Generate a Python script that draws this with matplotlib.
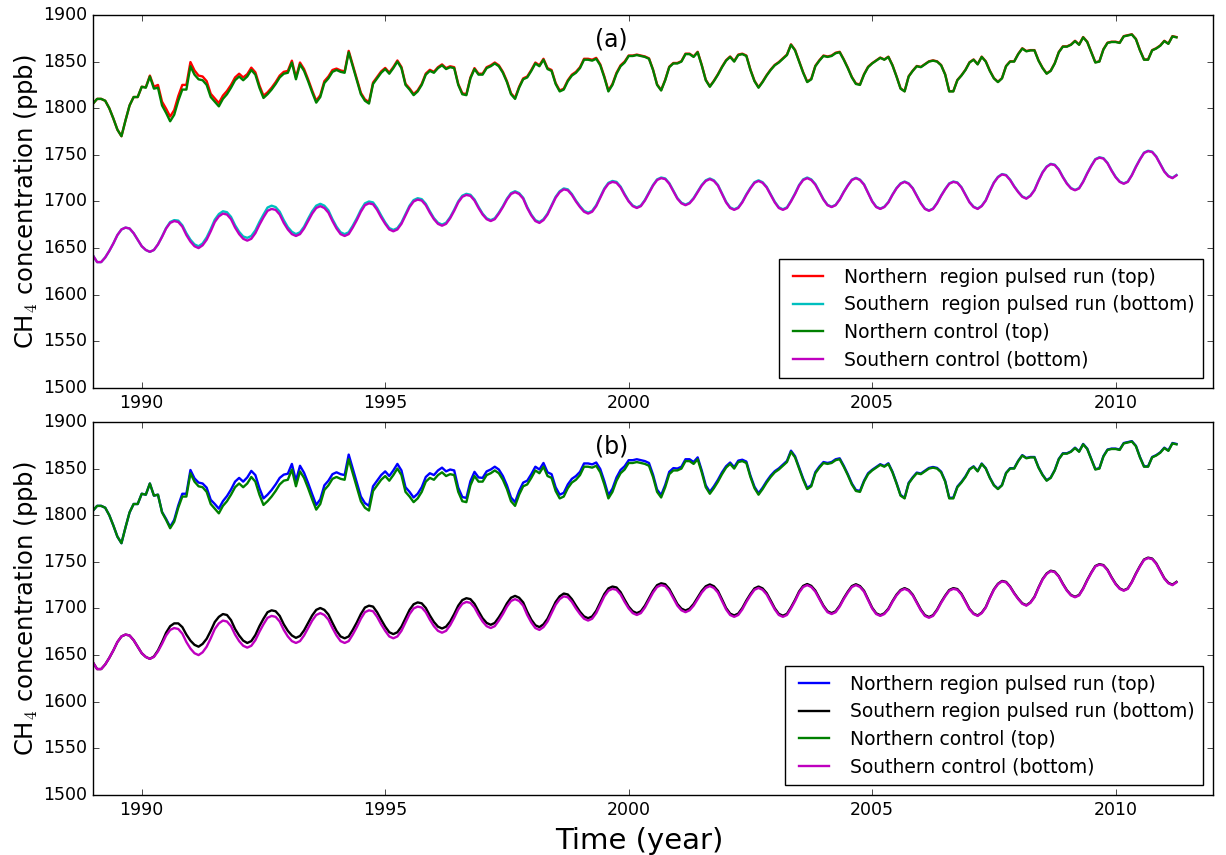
import numpy as np
import matplotlib
matplotlib.use('Agg')
import matplotlib.pyplot as plt
from matplotlib.ticker import FormatStrFormatter

plt.style.use('classic')

# monthly CH4 (ppb), Jan 1989 .. Apr 2011
north_control = [
    1805, 1810, 1810, 1808, 1800, 1789, 1777, 1770, 1787, 1803, 1812, 1812,  # 1989
    1823, 1822, 1834, 1821, 1822, 1803, 1795, 1786, 1793, 1808, 1820, 1820,  # 1990
    1845, 1836, 1831, 1830, 1825, 1812, 1807, 1802, 1810, 1815, 1822, 1830,  # 1991
    1834, 1830, 1834, 1841, 1836, 1822, 1811, 1815, 1820, 1826, 1833, 1837,  # 1992
    1838, 1849, 1831, 1847, 1840, 1829, 1817, 1806, 1812, 1827, 1832, 1839,  # 1993
    1841, 1839, 1838, 1860, 1845, 1830, 1815, 1808, 1805, 1826, 1832, 1838,  # 1994
    1842, 1837, 1843, 1850, 1843, 1825, 1820, 1814, 1818, 1825, 1836, 1840,  # 1995
    1838, 1843, 1846, 1842, 1844, 1843, 1825, 1815, 1814, 1832, 1842, 1836,  # 1996
    1836, 1843, 1845, 1848, 1845, 1838, 1828, 1815, 1810, 1822, 1831, 1833,  # 1997
    1840, 1848, 1845, 1852, 1842, 1840, 1826, 1818, 1820, 1829, 1835, 1838,  # 1998
    1843, 1852, 1852, 1851, 1853, 1846, 1833, 1818, 1825, 1837, 1845, 1849,  # 1999
    1856, 1856, 1857, 1856, 1855, 1853, 1841, 1825, 1819, 1830, 1844, 1848,  # 2000
    1848, 1850, 1858, 1858, 1855, 1860, 1846, 1830, 1823, 1829, 1836, 1844,  # 2001
    1851, 1855, 1850, 1857, 1858, 1856, 1841, 1829, 1822, 1828, 1835, 1841,  # 2002
    1846, 1849, 1853, 1857, 1868, 1862, 1850, 1838, 1828, 1831, 1845, 1851,  # 2003
    1856, 1855, 1856, 1859, 1860, 1852, 1843, 1833, 1826, 1825, 1836, 1844,  # 2004
    1848, 1851, 1854, 1852, 1855, 1846, 1834, 1821, 1818, 1834, 1840, 1845,  # 2005
    1844, 1847, 1850, 1851, 1850, 1846, 1836, 1818, 1818, 1830, 1835, 1841,  # 2006
    1849, 1852, 1847, 1855, 1850, 1840, 1832, 1828, 1832, 1845, 1850, 1850,  # 2007
    1858, 1864, 1861, 1862, 1862, 1851, 1843, 1837, 1840, 1848, 1860, 1866,  # 2008
    1866, 1868, 1872, 1868, 1876, 1871, 1860, 1849, 1850, 1863, 1870, 1871,  # 2009
    1871, 1870, 1877, 1878, 1879, 1874, 1862, 1852, 1852, 1862, 1864, 1867,  # 2010
    1872, 1869, 1877, 1876,                                                  # 2011
]

south_control = [
    1642, 1635, 1635, 1640, 1647, 1655, 1664, 1670, 1672, 1671, 1666, 1659,  # 1989
    1652, 1648, 1646, 1648, 1654, 1662, 1671, 1677, 1679, 1678, 1673, 1664,  # 1990
    1657, 1652, 1650, 1653, 1659, 1668, 1678, 1684, 1687, 1686, 1681, 1672,  # 1991
    1665, 1660, 1658, 1660, 1666, 1675, 1683, 1690, 1692, 1691, 1686, 1677,  # 1992
    1670, 1665, 1663, 1665, 1671, 1679, 1687, 1693, 1695, 1693, 1688, 1679,  # 1993
    1671, 1665, 1663, 1665, 1672, 1680, 1689, 1696, 1698, 1697, 1691, 1683,  # 1994
    1676, 1670, 1668, 1670, 1676, 1685, 1694, 1700, 1702, 1701, 1696, 1688,  # 1995
    1681, 1676, 1674, 1676, 1682, 1690, 1699, 1705, 1707, 1706, 1701, 1693,  # 1996
    1686, 1681, 1679, 1681, 1687, 1694, 1702, 1708, 1710, 1708, 1703, 1693,  # 1997
    1685, 1679, 1677, 1680, 1686, 1695, 1704, 1710, 1713, 1712, 1707, 1700,  # 1998
    1694, 1689, 1687, 1689, 1695, 1704, 1713, 1719, 1721, 1720, 1715, 1707,  # 1999
    1700, 1695, 1693, 1695, 1701, 1709, 1717, 1723, 1725, 1724, 1719, 1711,  # 2000
    1703, 1698, 1696, 1698, 1703, 1710, 1717, 1722, 1724, 1722, 1717, 1708,  # 2001
    1699, 1693, 1691, 1693, 1699, 1707, 1714, 1720, 1722, 1720, 1715, 1707,  # 2002
    1699, 1693, 1691, 1693, 1700, 1708, 1717, 1723, 1725, 1723, 1718, 1710,  # 2003
    1702, 1696, 1694, 1696, 1702, 1710, 1717, 1723, 1725, 1723, 1718, 1709,  # 2004
    1700, 1694, 1692, 1694, 1699, 1707, 1714, 1719, 1721, 1719, 1714, 1706,  # 2005
    1698, 1692, 1690, 1692, 1698, 1706, 1713, 1719, 1721, 1720, 1715, 1707,  # 2006
    1699, 1694, 1692, 1695, 1701, 1711, 1720, 1726, 1729, 1728, 1723, 1716,  # 2007
    1710, 1705, 1703, 1706, 1712, 1722, 1731, 1737, 1740, 1739, 1734, 1726,  # 2008
    1719, 1714, 1712, 1714, 1721, 1730, 1738, 1745, 1747, 1746, 1741, 1733,  # 2009
    1726, 1721, 1719, 1721, 1728, 1737, 1745, 1752, 1754, 1753, 1748, 1740,  # 2010
    1732, 1727, 1725, 1728,                                                  # 2011
]

# pulsed run minus control (ppb), same months
north_pulse_a = [
    0, 0, 0, 0, 0, 0, 0, 0, 0, 0, 0, 0,
    0, 0.5, 1, 2, 3, 4, 4.5, 5, 5, 5, 5, 5,
    4.5, 4.5, 4, 4, 4, 3.5, 3.5, 3.5, 3.5, 3.5, 3, 3,
    3, 3, 2.5, 2.5, 2.5, 2.5, 2.5, 2, 2, 2, 2, 2,
    2, 2, 2, 2, 2, 2, 2, 2, 2, 2, 2, 2,
    1.5, 1.5, 1.5, 1.5, 1.5, 1.5, 1.5, 1.5, 1.5, 1.5, 1.5, 1.5,
    1.2, 1.2, 1.2, 1.2, 1.2, 1.2, 1.2, 1.2, 1.2, 1.2, 1.2, 1.2,
    1, 1, 1, 1, 1, 1, 1, 1, 1, 1, 1, 1,
    1, 1, 1, 1, 1, 1, 1, 1, 1, 1, 1, 1,
    1, 1, 1, 1, 1, 1, 1, 1, 1, 1, 1, 1,
    1, 1, 1, 1, 1, 1, 1, 1, 1, 1, 1, 1,
    0.5, 0.5, 0.5, 0.5, 0.5, 0.5, 0.5, 0.5, 0.5, 0.5, 0.5, 0.5,
    0.5, 0.5, 0.5, 0.5, 0.5, 0.5, 0.5, 0.5, 0.5, 0.5, 0.5, 0.5,
    0.5, 0.5, 0.5, 0.5, 0.5, 0.5, 0.5, 0.5, 0.5, 0.5, 0.5, 0.5,
    0.5, 0.5, 0.5, 0.5, 0.5, 0.5, 0.5, 0.5, 0.5, 0.5, 0.5, 0.5,
    0.5, 0.5, 0.5, 0.5, 0.5, 0.5, 0.5, 0.5, 0.5, 0.5, 0.5, 0.5,
    0.3, 0.3, 0.3, 0.3, 0.3, 0.3, 0.3, 0.3, 0.3, 0.3, 0.3, 0.3,
    0.3, 0.3, 0.3, 0.3, 0.3, 0.3, 0.3, 0.3, 0.3, 0.3, 0.3, 0.3,
    0.3, 0.3, 0.3, 0.3, 0.3, 0.3, 0.3, 0.3, 0.3, 0.3, 0.3, 0.3,
    0.3, 0.3, 0.3, 0.3, 0.3, 0.3, 0.3, 0.3, 0.3, 0.3, 0.3, 0.3,
    0.3, 0.3, 0.3, 0.3, 0.3, 0.3, 0.3, 0.3, 0.3, 0.3, 0.3, 0.3,
    0.3, 0.3, 0.3, 0.3, 0.3, 0.3, 0.3, 0.3, 0.3, 0.3, 0.3, 0.3,
    0.3, 0.3, 0.3, 0.3,
]

south_pulse_a = [
    0, 0, 0, 0, 0, 0, 0, 0, 0, 0, 0, 0,
    0, 0, 0, 0, 0, 0.5, 0.5, 1, 1, 1.5, 1.5, 2,
    2, 2, 2, 2, 2.5, 2.5, 2.5, 2.5, 2.5, 2.5, 2.5, 2.5,
    2.5, 2.5, 3, 3, 3, 3, 3, 3.5, 3.5, 3, 3, 3,
    2.5, 2.5, 2, 2, 2, 2.5, 2.5, 2.5, 2.5, 2.5, 2.5, 2,
    2, 2, 2, 2, 2, 2, 2, 2, 2, 2, 2, 2,
    1.5, 1.5, 1.5, 1.5, 1.5, 1.5, 1.5, 1.5, 1.5, 1.5, 1.5, 1.5,
    1.2, 1.2, 1.2, 1.2, 1.2, 1.2, 1.2, 1.2, 1.2, 1.2, 1.2, 1.2,
    1, 1, 1, 1, 1, 1, 1, 1, 1, 1, 1, 1,
    1, 1, 1, 1, 1, 1, 1, 1, 1, 1, 1, 1,
    1, 1, 1, 1, 1, 1, 1, 1, 1, 1, 1, 1,
    0.7, 0.7, 0.7, 0.7, 0.7, 0.7, 0.7, 0.7, 0.7, 0.7, 0.7, 0.7,
    0.7, 0.7, 0.7, 0.7, 0.7, 0.7, 0.7, 0.7, 0.7, 0.7, 0.7, 0.7,
    0.7, 0.7, 0.7, 0.7, 0.7, 0.7, 0.7, 0.7, 0.7, 0.7, 0.7, 0.7,
    0.7, 0.7, 0.7, 0.7, 0.7, 0.7, 0.7, 0.7, 0.7, 0.7, 0.7, 0.7,
    0.4, 0.4, 0.4, 0.4, 0.4, 0.4, 0.4, 0.4, 0.4, 0.4, 0.4, 0.4,
    0.4, 0.4, 0.4, 0.4, 0.4, 0.4, 0.4, 0.4, 0.4, 0.4, 0.4, 0.4,
    0.4, 0.4, 0.4, 0.4, 0.4, 0.4, 0.4, 0.4, 0.4, 0.4, 0.4, 0.4,
    0.4, 0.4, 0.4, 0.4, 0.4, 0.4, 0.4, 0.4, 0.4, 0.4, 0.4, 0.4,
    0.4, 0.4, 0.4, 0.4, 0.4, 0.4, 0.4, 0.4, 0.4, 0.4, 0.4, 0.4,
    0.4, 0.4, 0.4, 0.4, 0.4, 0.4, 0.4, 0.4, 0.4, 0.4, 0.4, 0.4,
    0.4, 0.4, 0.4, 0.4, 0.4, 0.4, 0.4, 0.4, 0.4, 0.4, 0.4, 0.4,
    0.4, 0.4, 0.4, 0.4,
]

north_pulse_b = [
    0, 0, 0, 0, 0, 0, 0, 0, 0, 0, 0, 0,
    0, 0, 0, 0, 0, 0.5, 1, 1.5, 2, 2.5, 3, 3,
    3.5, 3.5, 4, 4, 4.5, 4.5, 5, 5, 5, 5.5, 5.5, 6,
    6, 6, 6.5, 6.5, 7, 7, 7, 7, 7, 7, 7, 6.5,
    6.5, 6, 6, 6, 5.5, 5.5, 5.5, 5, 5, 5, 5, 5,
    5, 5, 5, 5, 5, 5, 5, 5, 5, 5, 5, 5,
    5, 5, 5, 5, 5, 5, 5, 5, 5, 5, 5, 5,
    5, 5, 5, 5, 5, 5, 4.5, 4.5, 4.5, 4.5, 4.5, 4.5,
    4, 4, 4, 4, 4, 4, 4, 4, 4, 4, 4, 4,
    4, 4, 4, 4, 4, 4, 4, 4, 4, 4, 4, 4,
    3.5, 3.5, 3.5, 3.5, 3.5, 3.5, 3.5, 3.5, 3.5, 3.5, 3.5, 3.5,
    3, 3, 3, 3, 3, 3, 2.5, 2.5, 2.5, 2.5, 2.5, 2.5,
    2, 2, 2, 2, 2, 2, 2, 2, 2, 2, 2, 2,
    1.5, 1.5, 1.5, 1.5, 1.5, 1.5, 1.5, 1.5, 1.5, 1.5, 1.5, 1.5,
    1.2, 1.2, 1.2, 1.2, 1.2, 1.2, 1.2, 1.2, 1.2, 1.2, 1.2, 1.2,
    1, 1, 1, 1, 1, 1, 1, 1, 1, 1, 1, 1,
    0.7, 0.7, 0.7, 0.7, 0.7, 0.7, 0.7, 0.7, 0.7, 0.7, 0.7, 0.7,
    0.7, 0.7, 0.7, 0.7, 0.7, 0.7, 0.7, 0.7, 0.7, 0.7, 0.7, 0.7,
    0.4, 0.4, 0.4, 0.4, 0.4, 0.4, 0.4, 0.4, 0.4, 0.4, 0.4, 0.4,
    0.4, 0.4, 0.4, 0.4, 0.4, 0.4, 0.4, 0.4, 0.4, 0.4, 0.4, 0.4,
    0.4, 0.4, 0.4, 0.4, 0.4, 0.4, 0.4, 0.4, 0.4, 0.4, 0.4, 0.4,
    0.4, 0.4, 0.4, 0.4, 0.4, 0.4, 0.4, 0.4, 0.4, 0.4, 0.4, 0.4,
    0.4, 0.4, 0.4, 0.4,
]

south_pulse_b = [
    0, 0, 0, 0, 0, 0, 0, 0, 0, 0, 0, 0,
    0, 0, 0, 0.5, 1, 2, 3, 4, 5, 6, 7, 8,
    8.5, 9, 9, 9, 8.5, 8, 7.5, 7, 7, 7, 6.5, 6,
    6, 5.5, 5, 5, 5.5, 6, 6, 6, 6, 6, 6, 6,
    6, 6, 5.5, 5.5, 5.5, 5.5, 5.5, 5.5, 5.5, 5.5, 5.5, 5.5,
    5, 5, 5, 5, 5, 5, 5, 5, 5, 5, 5, 5,
    4.5, 4.5, 4.5, 4.5, 4.5, 4.5, 4.5, 4.5, 4.5, 4.5, 4.5, 4.5,
    4.5, 4.5, 4.5, 4.5, 4, 4, 4, 4, 4, 4, 4, 4,
    3.5, 3.5, 3.5, 3.5, 3.5, 3.5, 3.5, 3.5, 3.5, 3.5, 3.5, 3.5,
    3, 3, 3, 3, 3, 3, 3, 3, 3, 3, 3, 3,
    2.5, 2.5, 2.5, 2.5, 2.5, 2.5, 2.5, 2.5, 2.5, 2.5, 2.5, 2.5,
    2, 2, 2, 2, 2, 2, 2, 2, 2, 2, 2, 2,
    1.8, 1.8, 1.8, 1.8, 1.8, 1.8, 1.8, 1.8, 1.8, 1.8, 1.8, 1.8,
    1.5, 1.5, 1.5, 1.5, 1.5, 1.5, 1.5, 1.5, 1.5, 1.5, 1.5, 1.5,
    1.2, 1.2, 1.2, 1.2, 1.2, 1.2, 1.2, 1.2, 1.2, 1.2, 1.2, 1.2,
    1, 1, 1, 1, 1, 1, 1, 1, 1, 1, 1, 1,
    0.8, 0.8, 0.8, 0.8, 0.8, 0.8, 0.8, 0.8, 0.8, 0.8, 0.8, 0.8,
    0.8, 0.8, 0.8, 0.8, 0.8, 0.8, 0.8, 0.8, 0.8, 0.8, 0.8, 0.8,
    0.5, 0.5, 0.5, 0.5, 0.5, 0.5, 0.5, 0.5, 0.5, 0.5, 0.5, 0.5,
    0.5, 0.5, 0.5, 0.5, 0.5, 0.5, 0.5, 0.5, 0.5, 0.5, 0.5, 0.5,
    0.5, 0.5, 0.5, 0.5, 0.5, 0.5, 0.5, 0.5, 0.5, 0.5, 0.5, 0.5,
    0.5, 0.5, 0.5, 0.5, 0.5, 0.5, 0.5, 0.5, 0.5, 0.5, 0.5, 0.5,
    0.5, 0.5, 0.5, 0.5,
]

labels_a = ['Northern  region pulsed run (top)', 'Southern  region pulsed run (bottom)',
            'Northern control (top)', 'Southern control (bottom)']
labels_b = ['Northern region pulsed run (top)', 'Southern region pulsed run (bottom)',
            'Northern control (top)', 'Southern control (bottom)']

# time axis: one value per month starting January 1989
t = 1989 + np.arange(len(north_control)) / 12.0
nc = np.array(north_control, dtype=float)
sc = np.array(south_control, dtype=float)

fig = plt.figure(figsize=(12.26, 8.55), dpi=100, facecolor='white')
ax1 = fig.add_axes([0.0759, 0.5462, 0.9135, 0.4363])
ax2 = fig.add_axes([0.0759, 0.0702, 0.9135, 0.4363])

lw = 1.7
ax1.plot(t, nc + np.array(north_pulse_a), color='r', lw=lw, label=labels_a[0])
ax1.plot(t, sc + np.array(south_pulse_a), color='c', lw=lw, label=labels_a[1])
ax1.plot(t, nc, color='g', lw=lw, label=labels_a[2])
ax1.plot(t, sc, color='m', lw=lw, label=labels_a[3])

ax2.plot(t, nc + np.array(north_pulse_b), color='b', lw=lw, label=labels_b[0])
ax2.plot(t, sc + np.array(south_pulse_b), color='k', lw=lw, label=labels_b[1])
ax2.plot(t, nc, color='g', lw=lw, label=labels_b[2])
ax2.plot(t, sc, color='m', lw=lw, label=labels_b[3])

for ax, tag in [(ax1, '(a)'), (ax2, '(b)')]:
    ax.set_xlim(1989, 2012)
    ax.set_ylim(1500, 1900)
    ax.set_xticks([1990, 1995, 2000, 2005, 2010])
    ax.set_yticks(np.arange(1500, 1901, 50))
    ax.xaxis.set_major_formatter(FormatStrFormatter('%d'))
    ax.yaxis.set_major_formatter(FormatStrFormatter('%d'))
    ax.tick_params(labelsize=12.5)
    ax.set_facecolor('white')
    ax.set_ylabel('CH$_4$ concentration (ppb)', fontsize=17.5)
    ax.yaxis.set_label_coords(-0.047, 0.5)
    ax.text(0.463, 0.933, tag, transform=ax.transAxes, fontsize=17,
            ha='center', va='center')
    ax.legend(loc='lower right', fontsize=13.5, frameon=True, handlelength=2.2,
              handletextpad=0.8, labelspacing=0.45, borderpad=0.45,
              borderaxespad=0.55)

ax2.set_xlabel('Time (year)', fontsize=21)
ax2.xaxis.set_label_coords(0.488, -0.085)

fig.savefig('out.png', dpi=100, facecolor='white')
